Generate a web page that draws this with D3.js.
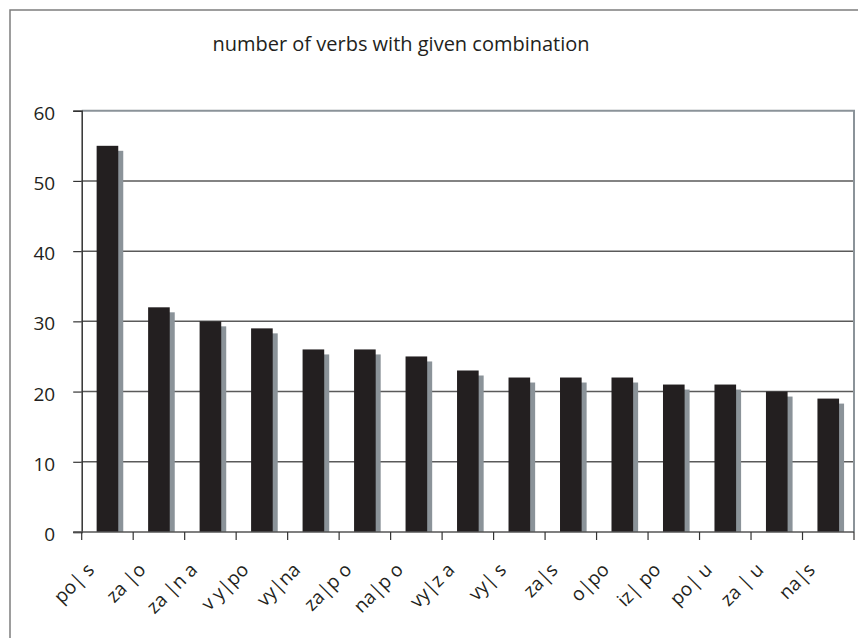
<!DOCTYPE html>
<html>
<head>
<meta charset="utf-8">
<script src="https://cdn.jsdelivr.net/npm/d3@7"></script>
<style>
  html, body { margin: 0; padding: 0; background: #fff; }
  svg { display: block; }
  text { font-family: "Open Sans", "Noto Sans", sans-serif; fill: #231f20; }
</style>
</head>
<body>
<svg id="chart" width="859" height="638"></svg>
<script>
// Prefix combinations and how many verbs use each
const categories = ["po| s", "za |o", "za |n a", "v y|po", "vy|na", "za|p o", "na|p o",
                    "vy|z a", "vy| s", "za|s", "o|po", "iz| po", "po| u", "za | u", "na|s"];
const counts = [55, 32, 30, 29, 26, 26, 25, 23, 22, 22, 22, 21, 21, 20, 19];
const yTicks = [0, 10, 20, 30, 40, 50, 60];
const title = "number of verbs with given combination";

const svg = d3.select("#chart");
const W = 859, H = 638;
const plot = { left: 81.7, right: 854, top: 110.7, bottom: 532 };

// Outer frame (top and left edges visible)
svg.append("path")
  .attr("d", `M10,${H} L10,10 L858,10`)
  .attr("fill", "none")
  .attr("stroke", "#7d7d7d")
  .attr("stroke-width", 1.5);

svg.append("text")
  .attr("x", 401)
  .attr("y", 51)
  .attr("text-anchor", "middle")
  .attr("font-size", 20)
  .text(title);

const x = d3.scaleBand()
  .domain(categories)
  .range([plot.left, plot.right])
  .paddingInner(0.58)
  .paddingOuter(0.29);

const y = d3.scaleLinear()
  .domain([0, 60])
  .range([plot.bottom, plot.top]);

// Horizontal gridlines
svg.append("g")
  .selectAll("line")
  .data(yTicks.filter(d => d > 0 && d < 60))
  .join("line")
  .attr("x1", plot.left)
  .attr("x2", plot.right)
  .attr("y1", d => y(d))
  .attr("y2", d => y(d))
  .attr("stroke", "#5a5a5a")
  .attr("stroke-width", 1.5);

// Plot area border (top and right)
svg.append("path")
  .attr("d", `M${plot.left},${y(60)} L${plot.right},${y(60)} L${plot.right},${plot.bottom}`)
  .attr("fill", "none")
  .attr("stroke", "#8b9399")
  .attr("stroke-width", 2);

// Bar shadows, then bars
const shadowOff = 5;
svg.append("g")
  .selectAll("rect")
  .data(counts)
  .join("rect")
  .attr("x", (d, i) => x(categories[i]) + shadowOff)
  .attr("y", d => y(d) + shadowOff)
  .attr("width", x.bandwidth())
  .attr("height", d => y(0) - y(d) - shadowOff)
  .attr("fill", "#8b9399");

svg.append("g")
  .selectAll("rect")
  .data(counts)
  .join("rect")
  .attr("x", (d, i) => x(categories[i]))
  .attr("y", d => y(d))
  .attr("width", x.bandwidth())
  .attr("height", d => y(0) - y(d))
  .attr("fill", "#231f20");

// Y axis
const yAxis = svg.append("g")
  .attr("transform", `translate(${plot.left},0)`)
  .call(d3.axisLeft(y).tickValues(yTicks).tickSize(8.5).tickPadding(18).tickFormat(d3.format("d")));
yAxis.select(".domain").attr("stroke", "#333").attr("stroke-width", 1.5);
yAxis.selectAll(".tick line").attr("stroke", "#333").attr("stroke-width", 1.2);
yAxis.selectAll(".tick text")
  .attr("font-size", 19)
  .attr("dy", "0.45em")
  .attr("font-family", "Open Sans, sans-serif")
  .attr("fill", "#231f20");

// X axis: baseline and boundary ticks
svg.append("line")
  .attr("x1", plot.left - 8.5).attr("x2", plot.right)
  .attr("y1", plot.bottom).attr("y2", plot.bottom)
  .attr("stroke", "#555").attr("stroke-width", 1.5);

const boundaries = categories.map(c => x(c) - x.step() * x.paddingInner() / 2)
  .concat([plot.right]);
boundaries[0] = plot.left;
svg.append("g")
  .selectAll("line")
  .data(boundaries)
  .join("line")
  .attr("x1", d => d).attr("x2", d => d)
  .attr("y1", plot.bottom).attr("y2", plot.bottom + 8)
  .attr("stroke", "#333").attr("stroke-width", 1.2);

// Rotated category labels
svg.append("g")
  .selectAll("text")
  .data(categories)
  .join("text")
  .attr("transform", d => `translate(${x(d) + x.bandwidth() / 2 - 12},${plot.bottom + 39}) rotate(-45)`)
  .attr("text-anchor", "end")
  .attr("font-size", 19)
  .text(d => d);
</script>
</body>
</html>
